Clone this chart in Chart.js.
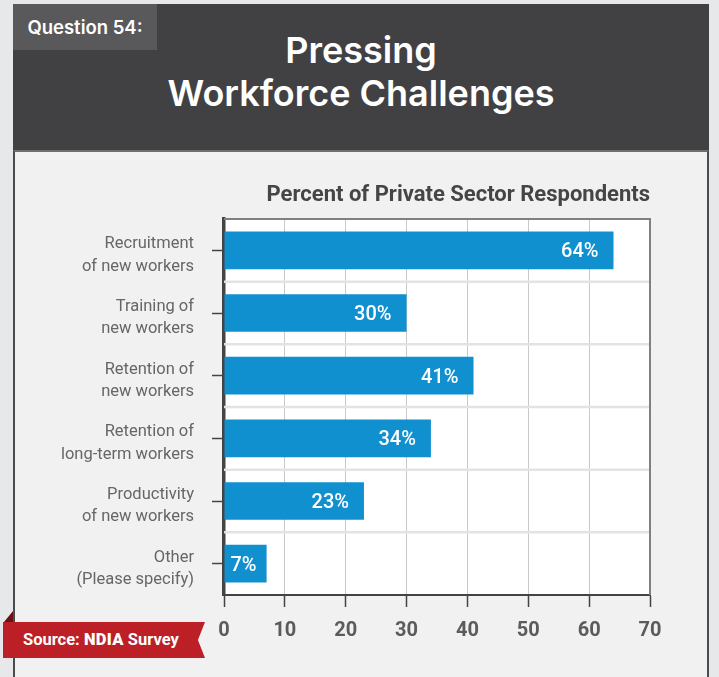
<!DOCTYPE html>
<html>
<head>
<meta charset="utf-8">
<title>Pressing Workforce Challenges</title>
<script src="https://cdn.jsdelivr.net/npm/chart.js@4.4.1/dist/chart.umd.min.js"></script>
<style>
  html, body { margin: 0; padding: 0; }
  body {
    width: 719px; height: 677px; overflow: hidden; position: relative;
    background: #e7e8ea; font-family: Roboto, "Noto Sans", sans-serif;
  }
  .header {
    position: absolute; left: 13px; top: 4px; width: 696px; height: 146px;
    background: #414143;
  }
  .qbox {
    position: absolute; left: 0; top: 0; width: 144px; height: 46px;
    background: #59595b; color: #fff; font: 600 18.5px Inter, Roboto, sans-serif;
    line-height: 46px; text-align: center;
  }
  .header h1 {
    position: absolute; left: 0; right: 0; top: 25px; margin: 0;
    color: #fff; text-align: center; font: 600 36px/43px Inter, Roboto, sans-serif;
  }
  .panel {
    position: absolute; left: 13px; top: 150px; width: 692px; height: 540px;
    background: #f0f1f0; border-left: 2px solid #4b4b4b; border-right: 2px solid #4b4b4b;
    border-top: 2px solid #6e6e6e;
  }
  #barChart { position: absolute; left: 15px; top: 152px; width: 690px; height: 525px; }
  .fold {
    position: absolute; left: 4px; top: 611px; width: 9px; height: 11px;
    background: #6b1214; clip-path: polygon(100% 0, 100% 100%, 0 100%);
  }
  .source {
    position: absolute; left: 3px; top: 622px; width: 202px; height: 36px;
    background: #bd1f26; color: #fff; font: 700 16.5px Roboto, sans-serif;
    line-height: 36px; padding-left: 20px; box-sizing: border-box;
    clip-path: polygon(0 0, 100% 0, 96.5% 50%, 100% 100%, 0 100%);
  }
  .source .ndia { font-weight: 900; letter-spacing: 0.3px; }
</style>
</head>
<body>
<div class="header">
  <div class="qbox">Question 54:</div>
  <h1>Pressing<br>Workforce Challenges</h1>
</div>
<div class="panel"></div>
<canvas id="barChart" width="690" height="525"></canvas>
<div class="fold"></div>
<div class="source">Source: <span class="ndia">NDIA</span> Survey</div>

<script>
// survey answers, one bar per category
const categories = [
  ['Recruitment', 'of new workers'],
  ['Training of', 'new workers'],
  ['Retention of', 'new workers'],
  ['Retention of', 'long-term workers'],
  ['Productivity', 'of new workers'],
  ['Other', '(Please specify)']
];
const percents = [64, 30, 41, 34, 23, 7];
const xTicks = [0, 10, 20, 30, 40, 50, 60, 70];

// white plot background, category separators and the top/right frame
const plotFrame = {
  id: 'plotFrame',
  beforeDraw(chart) {
    const { ctx, chartArea: a } = chart;
    ctx.save();
    ctx.fillStyle = '#ffffff';
    ctx.fillRect(a.left, a.top, a.width, a.height);
    ctx.restore();
  },
  beforeDatasetsDraw(chart) {
    const { ctx, chartArea: a, scales: { y } } = chart;
    ctx.save();
    ctx.strokeStyle = '#e3e3e3';
    ctx.lineWidth = 2.5;
    for (let i = 1; i < categories.length; i++) {
      const py = (y.getPixelForValue(i - 1) + y.getPixelForValue(i)) / 2;
      ctx.beginPath();
      ctx.moveTo(a.left, py);
      ctx.lineTo(a.right, py);
      ctx.stroke();
    }
    ctx.strokeStyle = '#808080';
    ctx.lineWidth = 2;
    ctx.beginPath();
    ctx.moveTo(a.left, a.top);
    ctx.lineTo(a.right, a.top);
    ctx.lineTo(a.right, a.bottom);
    ctx.stroke();
    ctx.restore();
  }
};

// percentage written inside the end of each bar
const valueLabels = {
  id: 'valueLabels',
  afterDatasetsDraw(chart) {
    const { ctx } = chart;
    const meta = chart.getDatasetMeta(0);
    ctx.save();
    ctx.font = '500 20px Roboto';
    ctx.fillStyle = '#ffffff';
    ctx.textAlign = 'right';
    ctx.textBaseline = 'middle';
    meta.data.forEach((bar, i) => {
      const text = percents[i] + '%';
      const w = ctx.measureText(text).width;
      const x = Math.max(bar.x - 15, bar.base + 6 + w);
      ctx.fillText(text, x, bar.y + 2);
    });
    ctx.restore();
  }
};

const ctx = document.getElementById('barChart').getContext('2d');
const chart = new Chart(ctx, {
  type: 'bar',
  data: {
    labels: categories,
    datasets: [{
      data: percents,
      backgroundColor: '#1190d0',
      borderWidth: 0,
      barPercentage: 0.6,
      categoryPercentage: 1
    }]
  },
  options: {
    indexAxis: 'y',
    responsive: false,
    animation: false,
    layout: { padding: { left: 0, right: 55, top: 0, bottom: 0 } },
    plugins: {
      legend: { display: false },
      tooltip: { enabled: false },
      title: {
        display: true,
        text: 'Percent of Private Sector Respondents',
        align: 'end',
        color: '#454545',
        font: { family: 'Roboto', size: 22, weight: 'bold', lineHeight: 1 },
        padding: { top: 32, bottom: 13 }
      }
    },
    scales: {
      x: {
        min: 0,
        max: 70,
        afterBuildTicks: s => { s.ticks = xTicks.map(v => ({ value: v })); },
        afterFit: s => { s.height = 82; },
        grid: { color: '#c9c9c9', lineWidth: 1, tickLength: 12, tickColor: '#444', tickWidth: 1.5 },
        border: { display: true, color: '#444', width: 2 },
        ticks: {
          color: '#5b5b5b',
          padding: 12,
          font: { family: 'Roboto', size: 20, weight: 'bold' }
        }
      },
      y: {
        z: 1,
        afterFit: s => { s.width = 209; },
        grid: { drawOnChartArea: false, offset: false, tickLength: 12, tickColor: '#444', tickWidth: 1.5 },
        border: { display: true, color: '#444', width: 3.5 },
        ticks: {
          color: '#666666',
          padding: 18,
          labelOffset: 5,
          font: { family: 'Roboto', size: 16.5, lineHeight: 1.35 }
        }
      }
    }
  },
  plugins: [plotFrame, valueLabels]
});
</script>
</body>
</html>
